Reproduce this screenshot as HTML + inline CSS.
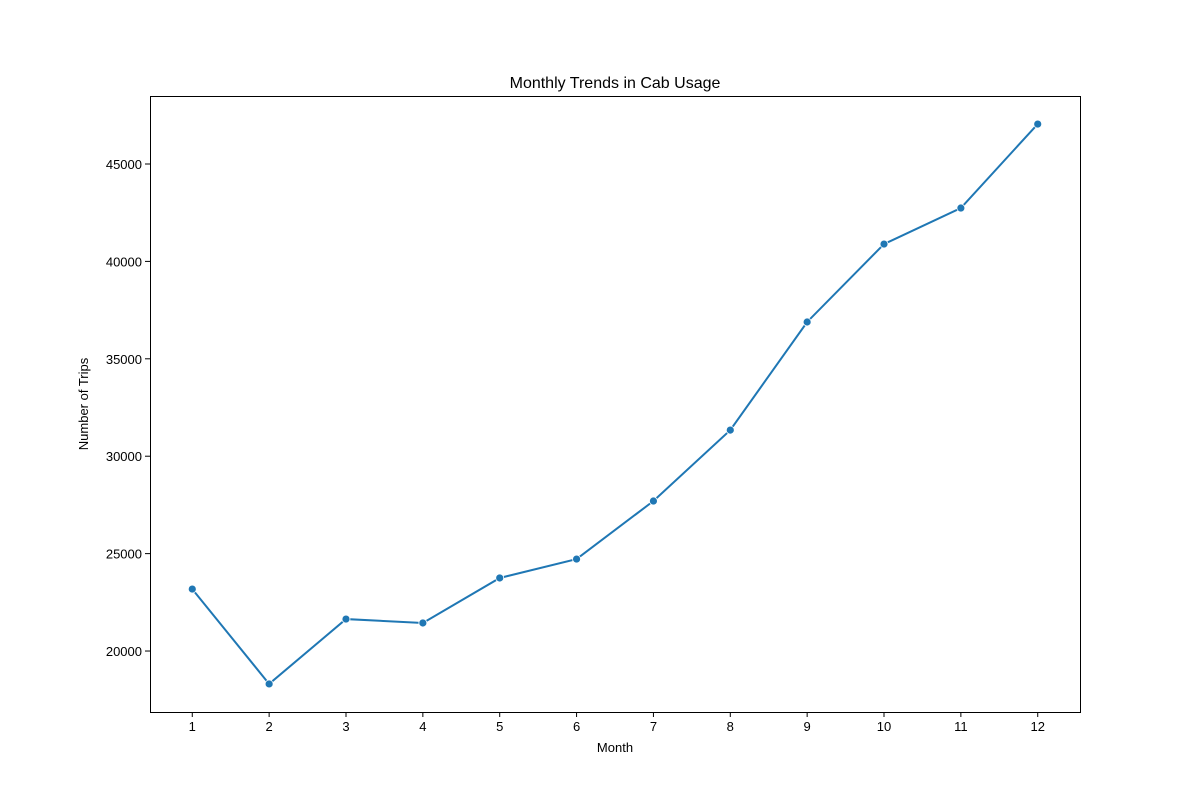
<!DOCTYPE html>
<html><head><meta charset="utf-8"><style>body{margin:0;background:#fff}svg{display:block;font-family:"Liberation Sans","DejaVu Sans",sans-serif}</style></head>
<body>
<svg id="chart" width="1200" height="800">
<rect width="1200" height="800" fill="#fff"/>
<text x="615" y="88" text-anchor="middle" font-size="16">Monthly Trends in Cab Usage</text>
<text x="615" y="752" text-anchor="middle" font-size="13">Month</text>
<text transform="translate(88,404) rotate(-90)" text-anchor="middle" font-size="13">Number of Trips</text>
<g id="ticks"></g>
<g id="series"></g>
<rect x="150.5" y="96.5" width="930" height="616" fill="none" stroke="#000" stroke-width="1"/>
</svg>
<script>
const months = [1,2,3,4,5,6,7,8,9,10,11,12];
const trips = [23180,18310,21640,21440,23750,24720,27700,31340,36890,40890,42740,47050];
const yTicks = [20000,25000,30000,35000,40000,45000];
const NS = "http://www.w3.org/2000/svg";
const L=150,R=1080,T=96,B=712;
const xMin=0.45,xMax=12.55,yMin=16870,yMax=48490;
const xs=v=>L+(v-xMin)/(xMax-xMin)*(R-L);
const ys=v=>B-(v-yMin)/(yMax-yMin)*(B-T);
function mk(tag,attrs,parent){const e=document.createElementNS(NS,tag);for(const k in attrs)e.setAttribute(k,attrs[k]);parent.appendChild(e);return e;}
const tg=document.getElementById('ticks'), sg=document.getElementById('series');
months.forEach(m=>{
  const x=xs(m);
  const l=mk('line',{x1:x,x2:x,y1:B,y2:B+5,stroke:'#000'},tg);
  
  
  const t=mk('text',{x:x,y:B+19,'text-anchor':'middle','font-size':13},tg);
  t.textContent=m;
  
  
});
yTicks.forEach(v=>{
  const y=ys(v);
  const l=mk('line',{x1:L-5,x2:L,y1:y,y2:y,stroke:'#000'},tg);
  
  
  const t=mk('text',{x:L-8,y:y+5,'text-anchor':'end','font-size':13},tg);
  t.textContent=v;
  
  
});
const pts=months.map((m,i)=>xs(m)+','+ys(trips[i])).join(' ');
const pl=mk('polyline',{points:pts,fill:'none',stroke:'#1f77b4','stroke-width':2},sg);


months.forEach((m,i)=>{
  const c=mk('circle',{cx:xs(m),cy:ys(trips[i]),r:4,fill:'#1f77b4',stroke:'#fff','stroke-width':0.8},sg);
  
  
});
</script>
</body></html>
